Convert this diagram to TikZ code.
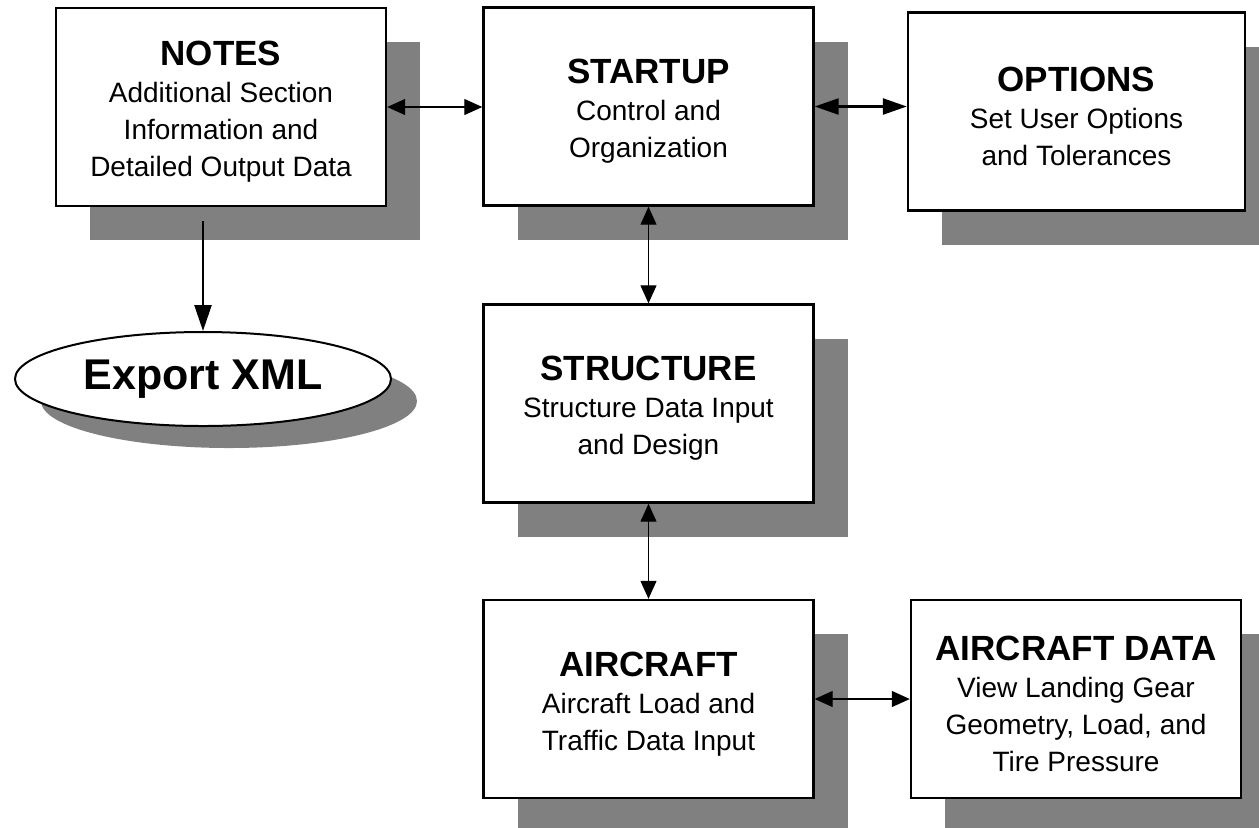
\documentclass[tikz,border=0pt]{standalone}
\usepackage{fontspec}
\setmainfont{Liberation Sans}
\usetikzlibrary{arrows.meta}
\usetikzlibrary{shadows}
\usetikzlibrary{shapes.geometric}

\definecolor{shadowgray}{RGB}{128,128,128}
\newcommand{\boxtitle}[1]{{\fontsize{17.5}{21}\selectfont\bfseries\rule{0pt}{17pt}#1}}

\begin{document}
\begin{tikzpicture}[x=0.5pt, y=-0.5pt,
  module/.style={draw, line width=1.2pt, fill=white, align=center, inner sep=0pt,
    minimum width=165pt, minimum height=99pt,
    font=\fontsize{14}{18.5}\selectfont,
    drop shadow={shadow xshift=17pt, shadow yshift=-17pt, fill=shadowgray, opacity=1}},
  >={Triangle[length=9pt,width=8pt]}]
\path[use as bounding box, fill=white] (0,0) rectangle (1259,827);

% top row
\coordinate (N) at (221,107);
\node[module] (notes) at (N) {\boxtitle{NOTES}\\Additional Section\\Information and\\Detailed Output Data};
\coordinate (S) at (648.5,106.5);
\node[module] (startup) at (S) {\boxtitle{STARTUP}\\Control and\\Organization};
\coordinate (O) at (1076.5,111.5);
\node[module, minimum width=168.5pt] (options) at (O) {\boxtitle{OPTIONS}\\Set User Options\\and Tolerances};

% export
\node[ellipse, draw, line width=1pt, fill=white, inner sep=0pt,
  minimum width=188pt, minimum height=47pt,
  font=\fontsize{21.5}{25}\selectfont\bfseries,
  drop shadow={shadow xshift=13pt, shadow yshift=-11pt, fill=shadowgray, opacity=1}]
  (xml) at (203,379) {Export XML};

% middle and bottom
\node[module] (structure) at (648.5,403.5) {\boxtitle{STRUCTURE}\\Structure Data Input\\and Design};
\node[module] (aircraft) at (648.5,699) {\boxtitle{AIRCRAFT}\\Aircraft Load and\\Traffic Data Input};
\node[module] (acdata) at (1076,699) {\boxtitle{AIRCRAFT DATA}\\View Landing Gear\\Geometry, Load, and\\Tire Pressure};

% connectors
\draw[<->, line width=0.6pt] (notes.east) -- (notes.east -| startup.west);
\draw[<->, line width=1.3pt, >={Triangle[length=12pt,width=8pt]}] (startup.east) -- (startup.east -| options.west);
\draw[->, line width=1.2pt, shorten <=7pt, >={Triangle[length=13pt,width=8.5pt]}] (notes.south -| xml.north) -- (xml.north);
\draw[<->, line width=0.6pt] (startup.south) -- (structure.north);
\draw[<->, line width=0.6pt] (structure.south) -- (aircraft.north);
\draw[<->, line width=0.6pt] (aircraft.east) -- (aircraft.east -| acdata.west);

\end{tikzpicture}
\end{document}
